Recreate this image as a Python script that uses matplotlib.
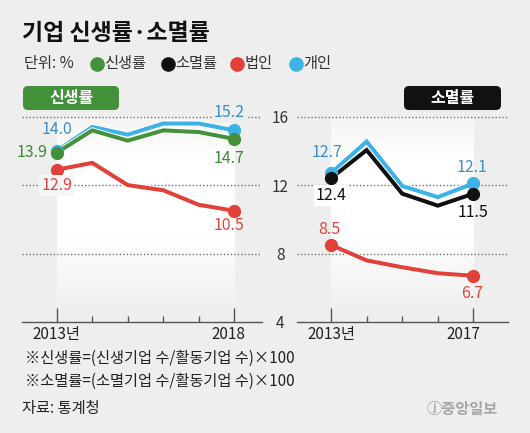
import matplotlib.pyplot as plt
import matplotlib.patheffects as pe
import numpy as np
from matplotlib.patches import FancyBboxPatch
from matplotlib.transforms import ScaledTranslation

plt.rcParams['font.family'] = ['Noto Sans CJK KR', 'DejaVu Sans']

# data
years_new = [2013, 2014, 2015, 2016, 2017, 2018]
new_rate = [13.9, 15.2, 14.6, 15.2, 15.1, 14.7]      # 신생률
new_corp = [12.9, 13.3, 12.0, 11.7, 10.85, 10.5]     # 법인
new_indiv = [14.0, 15.4, 14.95, 15.6, 15.6, 15.2]    # 개인

years_exit = [2013, 2014, 2015, 2016, 2017]
exit_rate = [12.4, 14.05, 11.5, 10.8, 11.5]          # 소멸률
exit_corp = [8.5, 7.6, 7.2, 6.85, 6.7]               # 법인
exit_indiv = [12.7, 14.55, 11.95, 11.3, 12.1]        # 개인

yticks = [4, 8, 12, 16]

BG = '#eeeeee'
GREEN = '#43923b'
BLACK = '#111111'
RED = '#e2413a'
BLUE = '#3db2e6'
BLUE_TXT = '#3a8fcc'
GREEN_TXT = '#3d8a36'
RED_TXT = '#e0463c'
W, H = 530, 433

fig = plt.figure(figsize=(W / 100, H / 100), dpi=100, facecolor=BG)


def px_axes(x0, x1, ytop, ybot):
    return fig.add_axes([x0 / W, 1 - ybot / H, (x1 - x0) / W, (ybot - ytop) / H])


ax1 = px_axes(22, 262, 103, 322)
ax2 = px_axes(297, 508, 103, 322)

# gradient white band under the lines
grad_v = np.linspace(16, 4, 200)
alpha = np.interp(grad_v, [4.3, 9, 13.5, 16], [0.0, 1.0, 1.0, 0.35], )
rgba = np.ones((200, 2, 4))
rgba[:, :, 3] = alpha[:, None]


def panel(ax, years, series, labels, xlim):
    ax.set_facecolor('none')
    n = len(years)
    x = np.arange(n)
    ax.imshow(rgba, extent=[0, n - 1, 4, 16], aspect='auto', zorder=0.5)
    for v in yticks[1:]:
        ax.axhline(v, color='#6f6f6f', lw=1.0, ls=(0, (1, 1.5)), zorder=1)
    for vals, col in series:
        ax.plot(x, vals, color=col, lw=2.9, solid_joinstyle='miter', zorder=3,
                path_effects=[pe.withStroke(linewidth=4.2, foreground='white')])
        ax.plot([x[0], x[-1]], [vals[0], vals[-1]], 'o', color=col, ms=8.5,
                zorder=3.5)
    for idx, vals, dx, dy, txt_col, ha, boxc in labels:
        i = 0 if idx == 0 else n - 1
        ax.annotate(f'{vals[i]:.1f}', (x[i], vals[i]), xytext=(dx, dy),
                    textcoords='offset pixels', ha=ha, va='center',
                    fontsize=11.5, color=txt_col, zorder=4,
                    bbox=dict(boxstyle='square,pad=0.12', fc=boxc, ec='none')
                    if boxc else None)
    ax.set_xlim(*xlim)
    ax.set_ylim(4, 16.8)
    for s in ['top', 'right', 'left']:
        ax.spines[s].set_visible(False)
    ax.spines['bottom'].set_color('#555555')
    ax.spines['bottom'].set_linewidth(1.0)
    ax.set_xticks([0, n - 1])
    ax.set_xticks(range(1, n - 1), minor=True)
    ax.set_xticklabels([f'{years[0]}년', str(years[-1])])
    ax.tick_params(axis='x', which='major', direction='in', length=10,
                   width=1, color='#555555', labelsize=11, labelcolor='#222222', pad=3)
    ax.tick_params(axis='x', which='minor', direction='in', length=4.3,
                   width=1, color='#555555')
    ax.set_yticks([])
    lbl = ax.get_xticklabels()
    lbl[1].set_transform(lbl[1].get_transform() +
                         ScaledTranslation(-6 / 100, 0, fig.dpi_scale_trans))


panel(ax1, years_new,
      [(new_indiv, BLUE), (new_rate, GREEN), (new_corp, RED)],
      [(0, new_indiv, 0, 21, BLUE_TXT, 'center', None),
       (0, new_rate, -9, 0, GREEN_TXT, 'right', None),
       (0, new_corp, 0, -16, RED_TXT, 'center', '#f6f6f6'),
       (1, new_indiv, -5, 18, BLUE_TXT, 'center', BG),
       (1, new_rate, -5, -20, GREEN_TXT, 'center', None),
       (1, new_corp, -5, -15, RED_TXT, 'center', None)],
      (-0.98, 5.78))

panel(ax2, years_exit,
      [(exit_indiv, BLUE), (exit_rate, BLACK), (exit_corp, RED)],
      [(0, exit_indiv, -4, 21, BLUE_TXT, 'center', None),
       (0, exit_rate, 0, -17, BLACK, 'center', 'white'),
       (0, exit_corp, -2, 16, RED_TXT, 'center', None),
       (1, exit_indiv, -1, 16, BLUE_TXT, 'center', None),
       (1, exit_rate, 0, -19, BLACK, 'center', None),
       (1, exit_corp, -1, -18, RED_TXT, 'center', None)],
      (-0.955, 4.97))
lbl = ax2.get_xticklabels()
lbl[1].set_transform(lbl[1].get_transform() +
                     ScaledTranslation(-4 / 100, 0, fig.dpi_scale_trans))

# shared y labels between the panels
ax2.set_yticks(yticks)
ax2.tick_params(axis='y', length=0, labelsize=11, labelcolor='#333333', pad=12)
for t in ax2.get_yticklabels():
    t.set_ha('center')

# overlay for titles, legend, badges and notes (pixel coords)
ov = fig.add_axes([0, 0, 1, 1])
ov.set_xlim(0, W)
ov.set_ylim(H, 0)
ov.axis('off')
ov.set_zorder(-1)

ov.text(22, 34, '기업 신생률·소멸률', fontsize=16.5, fontweight='bold',
        color='#111111', va='center', ha='left')
ov.text(24, 63.5, '단위: %', fontsize=11, color='#333333', va='center')
for cx, col, name in [(97, GREEN, '신생률'), (168, BLACK, '소멸률'),
                      (237, RED, '법인'), (296, BLUE, '개인')]:
    ov.plot(cx, 63.5, 'o', ms=9.5, color=col)
    ov.text(cx + 7.5, 63.5, name, fontsize=11, color='#333333', va='center')

for x0, x1, col, name in [(23, 119, GREEN, '신생률'), (404, 501, BLACK, '소멸률')]:
    ov.add_patch(FancyBboxPatch((x0, 86), x1 - x0, 24,
                                boxstyle='round,pad=0,rounding_size=5',
                                fc=col, ec='none'))
    ov.text((x0 + x1) / 2, 97.5, name, fontsize=11.5, fontweight='bold',
            color='white', ha='center', va='center')

ov.text(25, 358, '※신생률=(신생기업 수/활동기업 수)×100', fontsize=11,
        color='#222222', va='center')
ov.text(25, 381, '※소멸률=(소멸기업 수/활동기업 수)×100', fontsize=11,
        color='#222222', va='center')
ov.text(22, 409, '자료: 통계청', fontsize=11, color='#222222', va='center')
ov.text(498, 409, 'ⓙ중앙일보', fontsize=11, fontweight='bold',
        color='#a5a5a5', ha='right', va='center')

fig.savefig('out.png', dpi=100, facecolor=BG)
